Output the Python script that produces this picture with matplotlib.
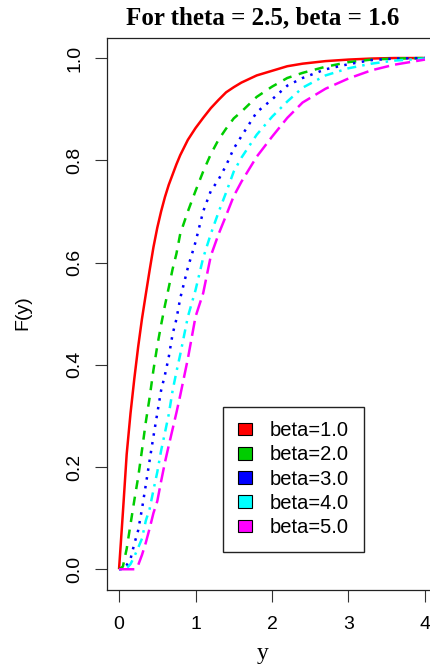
"""CDF curves F(y) for theta = 2.5 and several beta values, R base-graphics look."""

import matplotlib
matplotlib.use("Agg")
import matplotlib.pyplot as plt
from matplotlib.patches import Patch

# Values
Y_GRID = [0, 0.05, 0.1, 0.15, 0.2, 0.25, 0.3, 0.35, 0.4, 0.45, 0.5, 0.55, 0.6, 0.65,
          0.7, 0.75, 0.8, 0.9, 1.0, 1.1, 1.2, 1.3, 1.4, 1.5, 1.6, 1.8, 2.0, 2.2,
          2.4, 2.7, 3.0, 3.3, 3.6, 4.0]

F_BETA1 = [0, 0.11, 0.225, 0.305, 0.373, 0.435, 0.49, 0.538, 0.585, 0.63, 0.668, 0.70,
           0.728, 0.752, 0.772, 0.792, 0.81, 0.84, 0.863, 0.883, 0.902, 0.918, 0.933,
           0.943, 0.952, 0.966, 0.975, 0.984, 0.989, 0.994, 0.997, 0.999, 1.0, 1.0]
F_BETA2 = [0, 0.005, 0.04, 0.088, 0.135, 0.18, 0.233, 0.288, 0.336, 0.39, 0.437, 0.478,
           0.516, 0.551, 0.587, 0.617, 0.656, 0.70, 0.74, 0.778, 0.812, 0.84, 0.862,
           0.882, 0.895, 0.924, 0.944, 0.961, 0.971, 0.983, 0.992, 0.997, 0.999, 1.0]
F_BETA3 = [0, 0, 0.008, 0.02, 0.05, 0.076, 0.118, 0.165, 0.213, 0.26, 0.305, 0.35,
           0.38, 0.415, 0.46, 0.489, 0.53, 0.59, 0.64, 0.70, 0.74, 0.762, 0.79, 0.823,
           0.847, 0.894, 0.919, 0.946, 0.961, 0.978, 0.988, 0.996, 0.999, 1.0]
F_BETA4 = [0, 0, 0.002, 0.01, 0.025, 0.042, 0.06, 0.095, 0.118, 0.155, 0.19, 0.232,
           0.267, 0.303, 0.349, 0.386, 0.42, 0.494, 0.546, 0.609, 0.656, 0.698, 0.737,
           0.778, 0.805, 0.85, 0.885, 0.915, 0.942, 0.966, 0.98, 0.989, 0.995, 0.999]
F_BETA5 = [0, 0, 0, 0, 0, 0.008, 0.028, 0.052, 0.08, 0.11, 0.133, 0.172, 0.209, 0.242,
           0.274, 0.306, 0.34, 0.412, 0.494, 0.54, 0.613, 0.655, 0.692, 0.73, 0.758,
           0.807, 0.846, 0.883, 0.913, 0.94, 0.96, 0.976, 0.987, 0.997]

LABELS = ["beta=1.0", "beta=2.0", "beta=3.0", "beta=4.0", "beta=5.0"]
X_TICKS = [0, 1, 2, 3, 4]
Y_TICKS = [0.0, 0.2, 0.4, 0.6, 0.8, 1.0]

COLORS = ["#FF0000", "#00CD00", "#0000FF", "#00FFFF", "#FF00FF"]
# R lty 1..5 (solid, dashed, dotted, dotdash, longdash), lengths in points
STYLES = ["-", (0, (6.5, 5.5)), (0, (1.8, 4.6)), (0, (1.8, 4.4, 6.5, 4.4)), (0, (11.0, 4.4))]

plt.rcParams["lines.scale_dashes"] = False
SANS = "Liberation Sans"
SERIF = "Liberation Serif"

W, H = 430, 667
fig = plt.figure(figsize=(W / 100, H / 100), dpi=100)

# plot box in pixels: left 106.8, right 437.2, top 37.6, bottom 589.7
ax = fig.add_axes([106.8 / W, 1 - 589.7 / H, (437.2 - 106.8) / W, (589.7 - 37.6) / H])

series = [F_BETA1, F_BETA2, F_BETA3, F_BETA4, F_BETA5]
for vals, col, ls in zip(series, COLORS, STYLES):
    ax.plot(Y_GRID, vals, color=col, linestyle=ls, linewidth=1.8,
            solid_capstyle="butt", dash_capstyle="butt", solid_joinstyle="round")

ax.set_xlim(-0.16, 4.16)
ax.set_ylim(-0.04, 1.04)
ax.set_xticks(X_TICKS)
ax.set_xticklabels([str(t) for t in X_TICKS], fontsize=14, family=SANS)
ax.set_yticks(Y_TICKS)
ax.set_yticklabels([f"{t:.1f}" for t in Y_TICKS], fontsize=14, family=SANS,
                   rotation=90, va="center")
ax.tick_params(length=8.6, width=0.8, color="#333333")
ax.tick_params(axis="x", pad=10)
ax.tick_params(axis="y", pad=8)
for sp in ax.spines.values():
    sp.set_linewidth(0.9)
    sp.set_color("#222222")

# Legend with filled squares
handles = [Patch(facecolor=c, edgecolor="black", linewidth=0.8) for c in COLORS]
leg = ax.legend(handles, LABELS, loc="upper left", bbox_to_anchor=(0.3526, 0.3315),
                borderaxespad=0, fancybox=False, prop={"family": SANS, "size": 14.5},
                handlelength=0.7, handleheight=0.6, handletextpad=0.9,
                labelspacing=0.26, borderpad=0.72, framealpha=1)
leg.get_frame().set_edgecolor("#222222")
leg.get_frame().set_linewidth(1.0)

# Title and axis labels placed like R's margins
fig.text(263 / W, 1 - 18 / H, "For theta = 2.5, beta = 1.6", ha="center", va="center",
         fontsize=18, fontweight="bold", family=SERIF)
fig.text(263 / W, 1 - 659.5 / H, "y", ha="center", va="baseline", fontsize=17, family=SERIF)
fig.text(23 / W, 1 - 313 / H, "F(y)", ha="center", va="center", rotation=90,
         fontsize=14, family=SANS)

plt.savefig("out.png", dpi=100, facecolor="white")
plt.close()
